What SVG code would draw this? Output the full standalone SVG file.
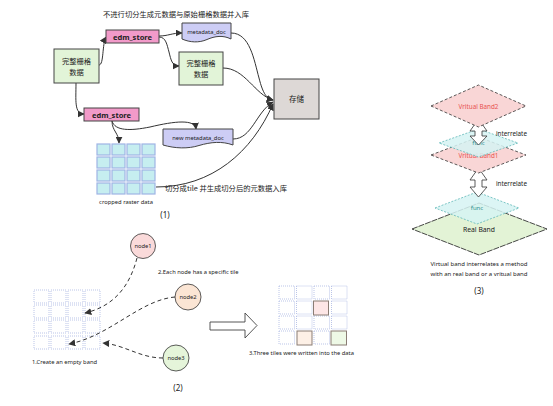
<svg xmlns="http://www.w3.org/2000/svg" width="553" height="406" viewBox="0 0 553 406">
<defs>
<marker id="ah" viewBox="0 0 10 10" refX="9" refY="5" markerWidth="7" markerHeight="7" markerUnits="userSpaceOnUse" orient="auto">
<path d="M0,0 L10,5 L0,10 z" fill="#333"/>
</marker>
<style>
text{font-family:"Noto Sans","Liberation Sans",sans-serif;fill:#222}
.cn{font-family:"Noto Sans CJK SC","Noto Sans",sans-serif}
.box{stroke:#444;stroke-width:1}
.green{fill:#e2f4d8}
.pink{fill:#f29ac9}
.doc{fill:#cdcdf5;stroke:#444;stroke-width:1}
.con{fill:none;stroke:#333;stroke-width:1;marker-end:url(#ah)}
.dcon{fill:none;stroke:#333;stroke-width:1;stroke-dasharray:4,3;marker-end:url(#ah)}
.cell{fill:#c6eef0;stroke:#9fb4e4;stroke-width:1.2}
.ecell{fill:#fff;stroke:#a9b6e2;stroke-width:0.8;stroke-dasharray:1,1}
.band{fill:#f9d6d6;stroke:#333;stroke-width:0.8;stroke-dasharray:3,2}
.func{fill:#d6f3f3;fill-opacity:0.85;stroke:#5fb8b8;stroke-width:0.8;stroke-dasharray:2,1.5}
.harrow{fill:#fff;stroke:#333;stroke-width:0.8}
.red{fill:#e8524f}
.teal{fill:#2f8f8f}
</style>
</defs>

<!-- Section 1 -->
<text class="cn" x="176" y="17" font-size="7.3" text-anchor="middle">不进行切分生成元数据与原始栅格数据并入库</text>

<g id="connectors1">
<path class="con" d="M99,65 C104,65 102,44 106,37"/>
<path class="con" d="M76,83 C76,100 74,114 84,114"/>
<path class="con" d="M159,36 C168,36 172,33 182,33"/>
<path class="con" d="M159,37 C166,37 167,45 169,52 C171,60 172,66 179,66"/>
<path class="con" d="M231,33 C250,33 254,60 259,78 C263,94 267,99 273,100"/>
<path class="con" d="M223,68 C245,68 255,95 273,100"/>
<path class="con" d="M233,139 C252,139 256,112 273,102"/>
<path class="con" d="M156,187 C212,187 252,152 273,104"/>
<path class="con" d="M112,121 C112,131 119,133 119,143"/>
<path class="con" d="M112,121 C115,131 130,131 150,127 C175,121 195,119 196,129"/>
</g>

<g id="raster1">
<rect class="box green" x="54" y="49" width="45" height="34"/>
<text class="cn" x="76.5" y="64" font-size="7.3" text-anchor="middle">完整栅格</text>
<text class="cn" x="76.5" y="75" font-size="7.3" text-anchor="middle">数据</text>
</g>
<g id="edm_store1">
<rect class="box pink" x="106" y="30" width="53" height="13"/>
<text x="132.5" y="39.5" font-size="7.5" font-weight="bold" text-anchor="middle">edm_store</text>
</g>
<g id="edm_store2">
<rect class="box pink" x="84" y="108" width="55" height="13"/>
<text x="111.5" y="117.5" font-size="7.5" font-weight="bold" text-anchor="middle">edm_store</text>
</g>
<g id="metadata_doc">
<path class="doc" d="M182,23 H231 V39 C223,35 215,36 207,39.5 C199,43 190,42.5 182,39 Z"/>
<text x="206.5" y="34" font-size="5.8" text-anchor="middle">metadata_doc</text>
</g>
<g id="raster2">
<rect class="box green" x="179" y="52" width="44" height="33"/>
<text class="cn" x="201" y="66" font-size="7.3" text-anchor="middle">完整栅格</text>
<text class="cn" x="201" y="77" font-size="7.3" text-anchor="middle">数据</text>
</g>
<g id="storage">
<rect class="box" x="274" y="79" width="45" height="40" fill="#ddd8d6"/>
<text class="cn" x="296.5" y="102" font-size="7.5" text-anchor="middle">存储</text>
</g>
<g id="new_metadata_doc">
<path class="doc" d="M163,129 H233 V145 C222,141 211,142 199,145.5 C188,149 175,148.5 163,145 Z"/>
<text x="198" y="140" font-size="5.8" text-anchor="middle">new metadata_doc</text>
</g>
<g id="cropped_grid">
<rect class="cell" x="97" y="144" width="13" height="11"/>
<rect class="cell" x="112" y="144" width="13" height="11"/>
<rect class="cell" x="127" y="144" width="13" height="11"/>
<rect class="cell" x="142" y="144" width="13" height="11"/>
<rect class="cell" x="97" y="157" width="13" height="11"/>
<rect class="cell" x="112" y="157" width="13" height="11"/>
<rect class="cell" x="127" y="157" width="13" height="11"/>
<rect class="cell" x="142" y="157" width="13" height="11"/>
<rect class="cell" x="97" y="170" width="13" height="11"/>
<rect class="cell" x="112" y="170" width="13" height="11"/>
<rect class="cell" x="127" y="170" width="13" height="11"/>
<rect class="cell" x="142" y="170" width="13" height="11"/>
<rect class="cell" x="97" y="183" width="13" height="11"/>
<rect class="cell" x="112" y="183" width="13" height="11"/>
<rect class="cell" x="127" y="183" width="13" height="11"/>
<rect class="cell" x="142" y="183" width="13" height="11"/>
<text x="126" y="204" font-size="5.8" text-anchor="middle">cropped raster data</text>
</g>
<text class="cn" x="165" y="191" font-size="7.3">切分成tile 并生成切分后的元数据入库</text>
<text x="165" y="218" font-size="8" text-anchor="middle" fill="#444">(1)</text>

<!-- Section 2 -->
<g id="empty_grid">
<rect class="ecell" x="34" y="290" width="15" height="13"/>
<rect class="ecell" x="51" y="290" width="15" height="13"/>
<rect class="ecell" x="68" y="290" width="15" height="13"/>
<rect class="ecell" x="85" y="290" width="15" height="13"/>
<rect class="ecell" x="34" y="305" width="15" height="13"/>
<rect class="ecell" x="51" y="305" width="15" height="13"/>
<rect class="ecell" x="68" y="305" width="15" height="13"/>
<rect class="ecell" x="85" y="305" width="15" height="13"/>
<rect class="ecell" x="34" y="320" width="15" height="13"/>
<rect class="ecell" x="51" y="320" width="15" height="13"/>
<rect class="ecell" x="68" y="320" width="15" height="13"/>
<rect class="ecell" x="85" y="320" width="15" height="13"/>
<rect class="ecell" x="34" y="336" width="15" height="13"/>
<rect class="ecell" x="51" y="336" width="15" height="13"/>
<rect class="ecell" x="68" y="336" width="15" height="13"/>
<rect class="ecell" x="85" y="336" width="15" height="13"/>
</g>
<text x="32" y="364" font-size="5.8">1.Create an empty band</text>

<g id="connectors2">
<path class="dcon" d="M137,258 C130,285 115,306 85,313"/>
<path class="dcon" d="M175,297 C140,300 110,336 69,344"/>
<path class="dcon" d="M163,358 C140,358 125,345 103,343"/>
</g>

<g id="node1">
<circle cx="143" cy="246" r="12.5" fill="#fadada" stroke="#333" stroke-width="0.8"/>
<text x="143" y="248" font-size="5.8" text-anchor="middle">node1</text>
</g>
<text x="158" y="274" font-size="5.8">2.Each node has a specific tile</text>
<g id="node2">
<circle cx="188" cy="297" r="13" fill="#fbe5d4" stroke="#333" stroke-width="0.8"/>
<text x="188" y="299" font-size="5.8" text-anchor="middle">node2</text>
</g>
<g id="node3">
<circle cx="176" cy="358" r="13" fill="#e5f5da" stroke="#333" stroke-width="0.8"/>
<text x="176" y="360" font-size="5.8" text-anchor="middle">node3</text>
</g>
<text x="178" y="391" font-size="8" text-anchor="middle" fill="#444">(2)</text>

<g id="big_arrow">
<path d="M210,322 H245 V313 L257,325.5 L245,338 V330 H210 Z" fill="#fff" stroke="#444" stroke-width="0.9"/>
</g>

<g id="written_grid">
<rect class="ecell" x="279" y="286" width="15.5" height="13"/>
<rect class="ecell" x="296.5" y="286" width="15.5" height="13"/>
<rect class="ecell" x="314" y="286" width="15.5" height="13"/>
<rect class="ecell" x="331.5" y="286" width="15.5" height="13"/>
<rect class="ecell" x="279" y="301" width="15.5" height="13"/>
<rect class="ecell" x="296.5" y="301" width="15.5" height="13"/>
<rect class="ecell" x="331.5" y="301" width="15.5" height="13"/>
<rect class="ecell" x="279" y="316" width="15.5" height="13"/>
<rect class="ecell" x="296.5" y="316" width="15.5" height="13"/>
<rect class="ecell" x="314" y="316" width="15.5" height="13"/>
<rect class="ecell" x="331.5" y="316" width="15.5" height="13"/>
<rect class="ecell" x="279" y="331" width="15.5" height="13"/>
<rect class="ecell" x="314" y="331" width="15.5" height="13"/>
<rect x="313.5" y="301" width="15" height="14" fill="#fde6e6" stroke="#8a7c74" stroke-width="1"/>
<rect x="297" y="331" width="15" height="14" fill="#fdf0e6" stroke="#8a7c74" stroke-width="1"/>
<rect x="331" y="331" width="15.5" height="14" fill="#eef9e6" stroke="#8a7c74" stroke-width="1"/>
</g>
<text x="249" y="355" font-size="5.8">3.Three tiles were written into the data</text>

<!-- Section 3 -->
<g id="real_band">
<polygon points="412,229 479,203 547,229 479,255" fill="#e3f3d6" stroke="#333" stroke-width="0.9" stroke-dasharray="6,1"/>
<text x="479" y="232" font-size="6.8" text-anchor="middle">Real Band</text>
</g>
<g id="func2">
<polygon class="func" points="435,208 477,192 519,208 477,224"/>
<text class="teal" x="477" y="210" font-size="6" text-anchor="middle">func</text>
</g>
<g id="interrelate2">
<path class="harrow" d="M478.5,168 L487,180 H482 V187 H487 L478.5,197 L470,187 H475 V180 H470 Z"/>
<text x="496" y="186" font-size="6.3">interrelate</text>
</g>
<g id="virtual_band1">
<polygon class="band" points="431,155 478.5,137 526,155 478.5,173"/>
<text class="red" x="478.5" y="158" font-size="6.3" text-anchor="middle">Vritual Band1</text>
</g>
<g id="func1">
<polygon class="func" points="439,143 478.5,129 518,143 478.5,157"/>
<text class="teal" x="478.5" y="145" font-size="6" text-anchor="middle">func</text>
</g>
<g id="interrelate1">
<path class="harrow" d="M478.5,119 L487,131 H482 V136 H487 L478.5,145 L470,136 H475 V131 H470 Z"/>
<text x="496" y="136" font-size="6.3">interrelate</text>
</g>
<g id="virtual_band2">
<polygon class="band" points="431,106 478.5,85 526,106 478.5,127"/>
<text class="red" x="478.5" y="108.5" font-size="6.3" text-anchor="middle">Vritual Band2</text>
</g>
<text x="479" y="266" font-size="6" text-anchor="middle">Virtual band interrelates a method</text>
<text x="479" y="276" font-size="6" text-anchor="middle">with an real band or a vritual band</text>
<text x="479" y="294" font-size="8" text-anchor="middle" fill="#444">(3)</text>
</svg>
